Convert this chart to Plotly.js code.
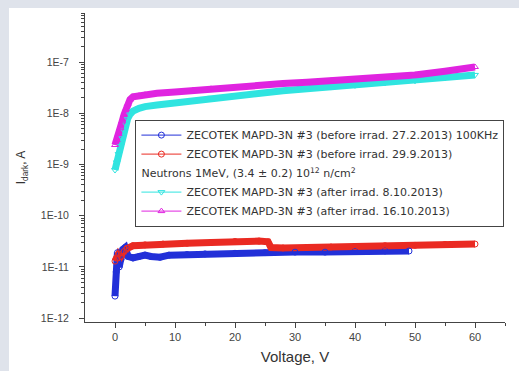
<!DOCTYPE html>
<html>
<head>
<meta charset="utf-8">
<script src="https://cdn.plot.ly/plotly-3.0.1.min.js"></script>
<style>
  html, body { margin: 0; padding: 0; background: #dfe3eb; width: 519px; height: 371px; overflow: hidden; }
  #chart { position: absolute; left: 9px; top: 8px; width: 510px; height: 363px; background: #ffffff; }
</style>
</head>
<body>
<div id="chart"></div>
<script>
// Dark current vs. bias voltage, ZECOTEK MAPD-3N #3, before and after neutron irradiation

// before irrad. 27.2.2013, 100KHz
const vBefore1 = [0, 0.2, 0.4, 0.7, 1.0, 1.3, 1.7, 2.2, 3, 4, 5, 6, 7.5, 9, 12, 15, 20, 25, 30, 35, 40, 45, 49];
const iBefore1 = [2.7e-12, 8e-12, 1.9e-11, 1.0e-11, 1.4e-11, 2.2e-11, 2.4e-11, 1.6e-11, 1.5e-11, 1.6e-11, 1.7e-11, 1.6e-11, 1.55e-11, 1.7e-11, 1.75e-11, 1.8e-11, 1.85e-11, 1.9e-11, 1.95e-11, 1.95e-11, 2.0e-11, 2.05e-11, 2.05e-11];

// before irrad. 29.9.2013
const vBefore2 = [0, 0.3, 0.6, 1, 1.5, 2, 3, 5, 8, 12, 16, 20, 24, 25.5, 26, 28, 32, 36, 40, 45, 50, 55, 60];
const iBefore2 = [1.3e-11, 1.5e-11, 1.8e-11, 1.6e-11, 2.0e-11, 2.3e-11, 2.6e-11, 2.7e-11, 2.8e-11, 2.9e-11, 3.0e-11, 3.15e-11, 3.2e-11, 3.1e-11, 2.4e-11, 2.35e-11, 2.4e-11, 2.45e-11, 2.5e-11, 2.6e-11, 2.65e-11, 2.75e-11, 2.8e-11];

// after irrad. 8.10.2013
const vAfter1 = [0, 0.3, 0.6, 0.9, 1.2, 1.5, 1.8, 2.1, 2.5, 3, 4, 5, 7, 10, 13, 16, 20, 24, 28, 32, 36, 40, 45, 50, 55, 60];
const iAfter1 = [7.8e-10, 1.1e-9, 1.6e-9, 2.3e-9, 3.3e-9, 4.6e-9, 6.2e-9, 7.8e-9, 9.5e-9, 1.1e-8, 1.25e-8, 1.35e-8, 1.45e-8, 1.6e-8, 1.8e-8, 2.0e-8, 2.25e-8, 2.5e-8, 2.75e-8, 3.0e-8, 3.25e-8, 3.5e-8, 3.9e-8, 4.3e-8, 4.9e-8, 5.6e-8];

// after irrad. 16.10.2013
const vAfter2 = [0, 0.3, 0.6, 0.9, 1.2, 1.5, 1.8, 2.1, 2.5, 3, 4, 5, 7, 10, 13, 16, 20, 24, 28, 32, 36, 40, 45, 50, 55, 60];
const iAfter2 = [2.4e-9, 3.0e-9, 3.9e-9, 5.2e-9, 7.0e-9, 9.3e-9, 1.2e-8, 1.5e-8, 1.85e-8, 2.1e-8, 2.2e-8, 2.3e-8, 2.45e-8, 2.6e-8, 2.8e-8, 3.0e-8, 3.25e-8, 3.55e-8, 3.8e-8, 4.05e-8, 4.3e-8, 4.6e-8, 5.1e-8, 5.6e-8, 6.6e-8, 8.0e-8];

const names = [
  'ZECOTEK MAPD-3N #3 (before irrad. 27.2.2013) 100KHz',
  'ZECOTEK MAPD-3N #3 (before irrad. 29.9.2013)',
  'ZECOTEK MAPD-3N #3 (after irrad. 8.10.2013)',
  'ZECOTEK MAPD-3N #3 (after irrad. 16.10.2013)'
];
const groupTitle = 'Neutrons 1MeV, (3.4 ± 0.2) 10<sup>12</sup> n/cm<sup>2</sup>';

const yTickVals = [1e-12, 1e-11, 1e-10, 1e-9, 1e-8, 1e-7];
const yTickText = ['1E-12', '1E-11', '1E-10', '1E-9', '1E-8', '1E-7'];
const xTickVals = [0, 10, 20, 30, 40, 50, 60];

const series = [
  { x: vBefore1, y: iBefore1, color: '#2230d8', symbol: 'circle-open', group: 'before' },
  { x: vBefore2, y: iBefore2, color: '#ea2a22', symbol: 'circle-open', group: 'before' },
  { x: vAfter1, y: iAfter1, color: '#30e4e0', symbol: 'triangle-down-open', group: 'after' },
  { x: vAfter2, y: iAfter2, color: '#e024e0', symbol: 'triangle-up-open', group: 'after' }
];

const legendFont = { family: 'DejaVu Sans', size: 11, color: '#333' };

const traces = [];
// thick bands formed by the dense measurement points
series.forEach(s => {
  traces.push({
    x: s.x, y: s.y, type: 'scatter', mode: 'lines',
    line: { color: s.color, width: 7 },
    showlegend: false, hoverinfo: 'skip'
  });
});
// individual open markers, also used for the legend entries
series.forEach((s, k) => {
  const t = {
    x: s.x, y: s.y, type: 'scatter', mode: 'lines+markers',
    name: names[k],
    line: { color: s.color, width: 1 },
    marker: { symbol: s.symbol, size: 6, color: s.color, line: { width: 1, color: s.color } },
    legendgroup: s.group
  };
  if (k === 2) t.legendgrouptitle = { text: groupTitle, font: legendFont };
  traces.push(t);
});

// minor ticks on the log axis
const yMinor = [];
for (let e = -12; e <= -7; e++) {
  for (let m = 2; m <= 9; m++) yMinor.push(m * Math.pow(10, e));
}

const layout = {
  width: 510, height: 363,
  margin: { l: 76, r: 14, t: 5, b: 49, autoexpand: false },
  paper_bgcolor: '#ffffff', plot_bgcolor: '#ffffff',
  font: { family: 'Liberation Sans, Arial, sans-serif', color: '#333', size: 10 },
  xaxis: {
    range: [-5, 65], tickvals: xTickVals,
    showgrid: false, zeroline: false,
    showline: true, linecolor: '#444', linewidth: 1,
    ticks: 'outside', ticklen: 5, tickcolor: '#444',
    minor: { tickvals: [5, 15, 25, 35, 45, 55, 65], ticks: 'outside', ticklen: 3, tickcolor: '#444' },
    tickfont: { size: 11, color: '#444' },
    title: { text: 'Voltage, V', font: { size: 15, color: '#333' }, standoff: 9 }
  },
  yaxis: {
    type: 'log', range: [-12.074, -6.043],
    tickvals: yTickVals, ticktext: yTickText,
    showgrid: false, zeroline: false,
    showline: true, linecolor: '#444', linewidth: 1,
    ticks: 'outside', ticklen: 5, tickcolor: '#444',
    ticklabelstandoff: 8,
    minor: { tickvals: yMinor, ticks: 'outside', ticklen: 3, tickcolor: '#444' },
    tickfont: { size: 10.5, color: '#444' },
    title: { text: 'I<sub>dark</sub>, A', font: { size: 12, color: '#333' }, standoff: 12 }
  },
  legend: {
    x: 0.12, y: 0.655, xanchor: 'left', yanchor: 'top',
    bgcolor: '#ffffff', bordercolor: '#444', borderwidth: 1,
    font: legendFont,
    itemwidth: 40,
    traceorder: 'grouped', tracegroupgap: 0
  },
  showlegend: true
};

Plotly.newPlot('chart', traces, layout, { displayModeBar: false, staticPlot: true });
</script>
</body>
</html>
